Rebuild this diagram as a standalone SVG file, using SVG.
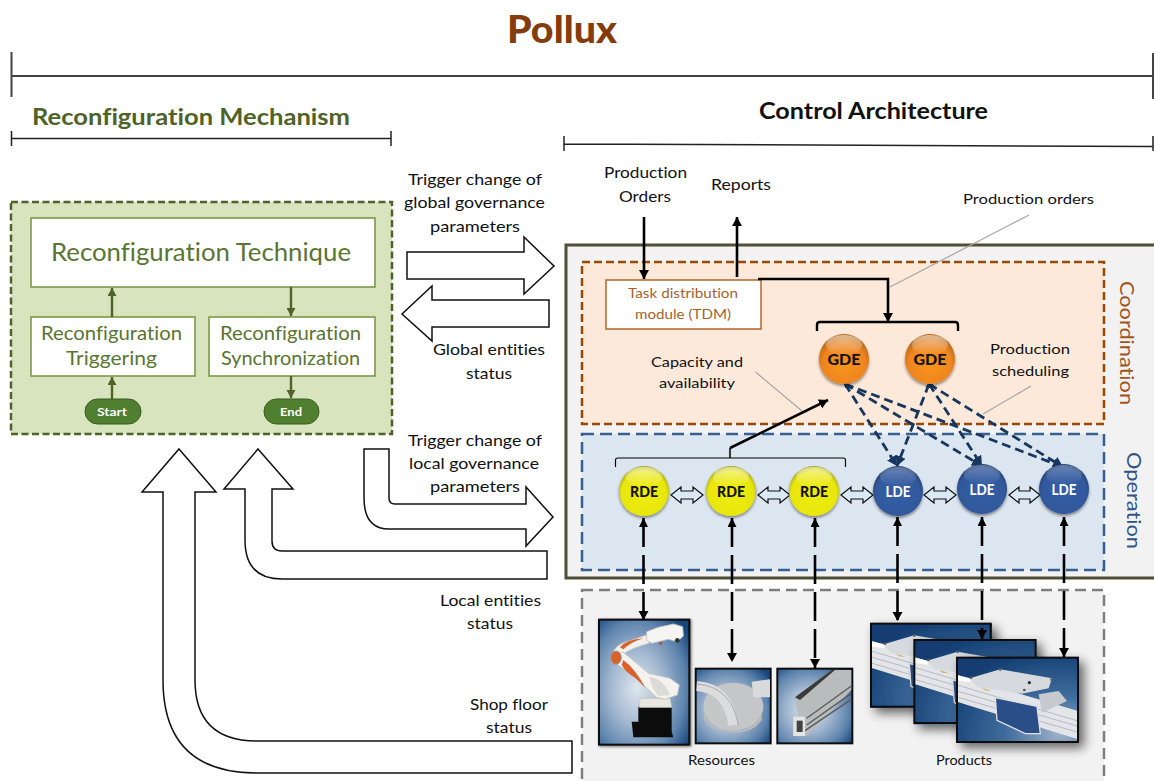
<svg xmlns="http://www.w3.org/2000/svg" width="1154" height="781" viewBox="0 0 1154 781">
<style>
text{font-family:"Lato","Carlito","Open Sans",sans-serif;fill:#111;font-variant-ligatures:none}
.l{font-size:16px}
.s{font-size:14.200px}
.g{fill:#5a7532;font-size:18.600px}
.br{fill:none;stroke:#444;stroke-width:1.500}
.blk{fill:#fff;stroke:#111;stroke-width:1.500;stroke-linejoin:miter}
.bi{fill:#dbe8f6;stroke:#111;stroke-width:1.200}
.gb{fill:#fff;stroke:#76923c;stroke-width:1.500}
.ga{fill:none;stroke:#4f6228;stroke-width:2.400;marker-end:url(#ag)}
.ka{fill:none;stroke:#000;stroke-width:2.600;marker-end:url(#ak)}
.da{fill:none;stroke:#000;stroke-width:2.600;stroke-dasharray:29 8;marker-end:url(#ak);marker-start:url(#aks)}
.bd{fill:none;stroke:#17375e;stroke-width:2.800;stroke-dasharray:9 5;marker-end:url(#ab);marker-start:url(#abs)}
.lead{fill:none;stroke:#a6a6a6;stroke-width:1.200}
.ph{stroke:#0d0d0d;stroke-width:6}
.ce{font-weight:900;font-size:15.500px}
.rb{stroke:#c4c4c4;stroke-width:2.500}
</style>
<defs>
<marker id="ag" markerUnits="userSpaceOnUse" markerWidth="10" markerHeight="10" refX="8" refY="4.500" orient="auto"><path d="M0 0L8 4.500L0 9z" fill="#4f6228"/></marker>
<marker id="ak" markerUnits="userSpaceOnUse" markerWidth="10" markerHeight="12" refX="9" refY="5" orient="auto"><path d="M0 0L9 5L0 10z" fill="#000"/></marker>
<marker id="aks" markerUnits="userSpaceOnUse" markerWidth="10" markerHeight="12" refX="9" refY="4.500" orient="auto-start-reverse"><path d="M0 0L9 4.500L0 9z" fill="#000"/></marker>
<marker id="ab" markerUnits="userSpaceOnUse" markerWidth="12" markerHeight="12" refX="10" refY="5.500" orient="auto"><path d="M0 0L10 5.500L0 11z" fill="#17375e"/></marker>
<marker id="abs" markerUnits="userSpaceOnUse" markerWidth="6" markerHeight="6" refX="4" refY="2.500" orient="auto-start-reverse"><path d="M0 0L4 2.500L0 5z" fill="#17375e"/></marker>
<radialGradient id="o" cx=".5" cy=".62" r=".58"><stop offset="0" stop-color="#f7951e"/><stop offset=".75" stop-color="#ee8420"/><stop offset="1" stop-color="#b96a1c"/></radialGradient>
<radialGradient id="y" cx=".5" cy=".55" r=".55"><stop offset="0" stop-color="#eeee0a"/><stop offset=".82" stop-color="#e8e610"/><stop offset="1" stop-color="#a7a71e"/></radialGradient>
<radialGradient id="b" cx=".5" cy=".55" r=".55"><stop offset="0" stop-color="#345ea6"/><stop offset=".82" stop-color="#30589c"/><stop offset="1" stop-color="#26406e"/></radialGradient>
<linearGradient id="gl" x1="0" y1="0" x2="0" y2="1"><stop offset="0" stop-color="#fff" stop-opacity=".55"/><stop offset="1" stop-color="#fff" stop-opacity="0"/></linearGradient>
<radialGradient id="ph" cx=".42" cy=".55" r=".72"><stop offset="0" stop-color="#dfe6ee"/><stop offset=".4" stop-color="#a4b9d1"/><stop offset=".75" stop-color="#5d83ad"/><stop offset="1" stop-color="#17457c"/></radialGradient>
<radialGradient id="pr" cx=".85" cy=".9" r="1"><stop offset="0" stop-color="#9fb2c8"/><stop offset=".45" stop-color="#3f6c9c"/><stop offset="1" stop-color="#133e72"/></radialGradient>
<filter id="sh" x="-30%" y="-30%" width="170%" height="170%"><feGaussianBlur in="SourceAlpha" stdDeviation="5"/><feOffset dx="4" dy="4"/><feComponentTransfer><feFuncA type="linear" slope=".55"/></feComponentTransfer><feMerge><feMergeNode/><feMergeNode in="SourceGraphic"/></feMerge></filter>
<filter id="sh2" x="-60%" y="-60%" width="220%" height="220%"><feGaussianBlur in="SourceAlpha" stdDeviation="16"/><feOffset dx="14" dy="14"/><feComponentTransfer><feFuncA type="linear" slope=".6"/></feComponentTransfer><feMerge><feMergeNode/><feMergeNode in="SourceGraphic"/></feMerge></filter>
<filter id="cs" x="-20%" y="-20%" width="140%" height="140%"><feGaussianBlur in="SourceAlpha" stdDeviation="1.500"/><feOffset dy="1.500"/><feComponentTransfer><feFuncA type="linear" slope=".45"/></feComponentTransfer><feMerge><feMergeNode/><feMergeNode in="SourceGraphic"/></feMerge></filter>
<clipPath id="pc"><rect width="363" height="253"/></clipPath>
<g id="prodArt">
<rect width="363" height="253" fill="url(#pr)"/>
<g clip-path="url(#pc)">
<path d="M0 52L120 88L363 160V245L0 132z" fill="#e3e5e8"/>
<path d="M0 52L40 62V74L0 68z" fill="#fff"/>
<path d="M0 82L363 190M0 100L363 206M0 118L363 224" stroke="#b6bac0" stroke-width="3" fill="none"/>
<path d="M245 110L305 100L330 130L255 165z" fill="#c6c9cd"/>
<path d="M38 62L130 35L285 62L275 92L195 108L60 88z" fill="#d6d9dd"/>
<path d="M75 90L105 100L85 98z" fill="#c9ab62"/>
<path d="M115 120L240 146L250 228L205 228L120 188z" fill="#2a5088" stroke="#dfe1e4" stroke-width="4"/>
<circle cx="130" cy="36" r="4" fill="#666"/><circle cx="42" cy="60" r="4" fill="#555"/><circle cx="217" cy="75" r="5" fill="#333"/><circle cx="283" cy="66" r="4" fill="#666"/><circle cx="202" cy="97" r="4" fill="#555"/>
</g>
</g>
</defs>

<g id="title">
<text x="507" y="43" font-size="37.500" font-weight="900" style="fill:#843c0c" textLength="110" lengthAdjust="spacingAndGlyphs">Pollux</text>
<path class="br" style="stroke-width:2" d="M11.500 52V97M11.500 76H1153M1153 53V99"/>
</g>
<g id="mechanism-header">
<text x="32" y="125" font-size="22.500" font-weight="700" style="fill:#4f6228" textLength="318" lengthAdjust="spacingAndGlyphs">Reconfiguration Mechanism</text>
<path class="br" style="stroke:#222" d="M11.500 131V146M11.500 138.500H391M391 131V146"/>
</g>
<g id="control-header">
<text x="759" y="119" font-size="22.500" font-weight="700" textLength="229" lengthAdjust="spacingAndGlyphs">Control Architecture</text>
<path class="br" style="stroke:#222" d="M564 136V151M564 144L1153 146.500M1153 136V151"/>
</g>

<g id="mechanism">
<rect x="11" y="202" width="381" height="232" fill="#d7e4bd" stroke="#4f6228" stroke-width="2.500" stroke-dasharray="7 3.500"/>
</g>
<g id="technique"><rect class="gb" x="31" y="218" width="344" height="69"/><text x="51" y="261" class="g" style="font-size:24.500px" textLength="300" lengthAdjust="spacingAndGlyphs">Reconfiguration Technique</text></g>
<g id="triggering"><rect class="gb" x="31" y="317" width="164" height="59"/><text x="41" y="340" class="g" textLength="141" lengthAdjust="spacingAndGlyphs">Reconfiguration</text><text x="66" y="365" class="g" textLength="91" lengthAdjust="spacingAndGlyphs">Triggering</text></g>
<g id="synchronization"><rect class="gb" x="209" y="317" width="166" height="59"/><text x="220" y="340" class="g" textLength="141" lengthAdjust="spacingAndGlyphs">Reconfiguration</text><text x="221" y="365" class="g" textLength="139" lengthAdjust="spacingAndGlyphs">Synchronization</text></g>
<g id="start"><rect x="85" y="399" width="56" height="25" rx="12.500" fill="#4f7f2f" stroke="#3d5a1e"/><text x="97" y="416" font-size="11.500" font-weight="700" style="fill:#fff" textLength="30" lengthAdjust="spacingAndGlyphs">Start</text></g>
<g id="end"><rect x="264" y="399" width="55" height="25" rx="12.500" fill="#4f7f2f" stroke="#3d5a1e"/><text x="280" y="416" font-size="11.500" font-weight="700" style="fill:#fff" textLength="22" lengthAdjust="spacingAndGlyphs">End</text></g>

<g id="control-frame"><rect x="566" y="245" width="600" height="333" fill="#f2f2f2" stroke="#4f4f35" stroke-width="3"/></g>
<g id="coordination">
<rect x="582" y="262" width="522" height="162" fill="#fde9d9" stroke="#984807" stroke-width="2.500" stroke-dasharray="8 4"/>
<text transform="translate(1120 281) rotate(90)" font-size="20" style="fill:#a0551c" textLength="124" lengthAdjust="spacingAndGlyphs">Coordination</text>
</g>
<g id="operation">
<rect x="582" y="434" width="522" height="136" fill="#dce6f1" stroke="#366092" stroke-width="2.500" stroke-dasharray="12 6"/>
<text transform="translate(1127 452) rotate(90)" font-size="20" style="fill:#2f5483" textLength="97" lengthAdjust="spacingAndGlyphs">Operation</text>
</g>
<g id="shopfloor"><rect x="582" y="590" width="522" height="210" fill="#f2f2f2" stroke="#7f7f7f" stroke-width="2.500" stroke-dasharray="11 6"/></g>

<g id="block-arrows">
<path class="blk" d="M407 252H524V237L554 266L524 294V279H407z"/>
<path class="blk" d="M549 300H432V286L402 314L432 341V327H549z"/>
<path class="blk" d="M364 449H389V498Q389 504 395 504H526V487L553 517L526 546V529H389Q364 529 364 498z"/>
<path class="blk" d="M258 449L293 489H272V541Q272 551 282 551H547V579H282Q245 579 245 540V489H224z"/>
<path class="blk" d="M179 449L216 492H195V680Q195 741 257 741H572V773H257Q163 773 163 680V492H142z"/>
</g>

<g id="labels">
<text class="l" x="408" y="185" textLength="134" lengthAdjust="spacingAndGlyphs">Trigger change of</text>
<text class="l" x="404" y="208" textLength="141" lengthAdjust="spacingAndGlyphs">global governance</text>
<text class="l" x="430" y="232" textLength="90" lengthAdjust="spacingAndGlyphs">parameters</text>
<text class="l" x="433" y="355" textLength="112" lengthAdjust="spacingAndGlyphs">Global entities</text>
<text class="l" x="466" y="379" textLength="46" lengthAdjust="spacingAndGlyphs">status</text>
<text class="l" x="408" y="446" textLength="134" lengthAdjust="spacingAndGlyphs">Trigger change of</text>
<text class="l" x="409" y="469" textLength="130" lengthAdjust="spacingAndGlyphs">local governance</text>
<text class="l" x="430" y="492" textLength="90" lengthAdjust="spacingAndGlyphs">parameters</text>
<text class="l" x="440" y="606" textLength="101" lengthAdjust="spacingAndGlyphs">Local entities</text>
<text class="l" x="467" y="629" textLength="46" lengthAdjust="spacingAndGlyphs">status</text>
<text class="l" x="470" y="710" textLength="78" lengthAdjust="spacingAndGlyphs">Shop floor</text>
<text class="l" x="486" y="733" textLength="46" lengthAdjust="spacingAndGlyphs">status</text>
<text class="l" x="604" y="178" textLength="83" lengthAdjust="spacingAndGlyphs">Production</text>
<text class="l" x="619" y="202" textLength="52" lengthAdjust="spacingAndGlyphs">Orders</text>
<text class="l" x="711" y="190" textLength="60" lengthAdjust="spacingAndGlyphs">Reports</text>
<text class="s" x="963" y="204" textLength="131" lengthAdjust="spacingAndGlyphs">Production orders</text>
<text class="s" x="651" y="367" textLength="92" lengthAdjust="spacingAndGlyphs">Capacity and</text>
<text class="s" x="659" y="388" textLength="76" lengthAdjust="spacingAndGlyphs">availability</text>
<text class="s" x="990" y="354" textLength="80" lengthAdjust="spacingAndGlyphs">Production</text>
<text class="s" x="992" y="376" textLength="77" lengthAdjust="spacingAndGlyphs">scheduling</text>
<text class="s" x="688" y="765" textLength="67" lengthAdjust="spacingAndGlyphs">Resources</text>
<text class="s" x="936" y="765" textLength="56" lengthAdjust="spacingAndGlyphs">Products</text>
</g>

<g id="leaders">
<path class="lead" d="M1029 215L890 287M755.500 372L802 411M1031 386L983 414"/>
</g>

<g id="tdm"><rect x="606" y="280" width="155" height="49" fill="#fff" stroke="#b5652a" stroke-width="1.500"/>
<text x="628" y="298" font-size="13.800" style="fill:#a5622b" textLength="110" lengthAdjust="spacingAndGlyphs">Task distribution</text>
<text x="635" y="319" font-size="13.800" style="fill:#a5622b" textLength="96" lengthAdjust="spacingAndGlyphs">module (TDM)</text></g>

<g id="robot" transform="translate(590 610) scale(.33333)">
<rect class="ph" x="27" y="29" width="271" height="375" fill="url(#ph)" filter="url(#sh)"/>
<path d="M145 290H245V365L250 382H130L125 335H145z" fill="#0c0c0c"/>
<path class="rb" d="M150 265H240L245 292H148z" fill="#e9e6df"/>
<path class="rb" d="M65 135Q75 105 110 95L170 75L178 100Q130 112 100 132z" fill="#f2f0ec"/>
<path class="rb" d="M62 145L98 125L140 160L175 190L240 205L268 225L262 255L225 268L200 262L140 205L85 165z" fill="#f4f2ee"/>
<path d="M178 200Q220 205 240 255L205 258Q185 235 178 200z" fill="#dcdad6"/>
<path d="M90 112Q110 88 160 85Q120 98 100 118z" fill="#d9622b"/>
<path d="M100 150Q135 175 165 232L135 203Q108 188 95 165z" fill="#d9622b"/>
<ellipse cx="78" cy="143" rx="16" ry="20" fill="#d9622b" stroke="#9a9a9a" stroke-width="3"/>
<path class="rb" d="M170 65L205 52L250 42L278 50L280 78L262 95L235 88L185 100L170 90z" fill="#f6f5f2"/>
<circle cx="262" cy="91" r="7" fill="#333"/><circle cx="212" cy="100" r="4" fill="#c0392b"/>
</g>
<g id="resource-2" transform="translate(590 610) scale(.33333)">
<rect class="ph" x="317" y="176" width="225" height="224" fill="url(#ph)"/>
<ellipse cx="430" cy="290" rx="90" ry="72" fill="#c4c6c8"/>
<path d="M342 305Q360 365 430 362Q495 365 515 305V330Q490 368 430 368Q365 365 342 330z" fill="#b8babc"/>
<path d="M320 228Q415 235 430 345" fill="none" stroke="#dcdcdc" stroke-width="30"/>
<path d="M320 222Q425 230 445 345" fill="none" stroke="#a8aaad" stroke-width="3"/>
<path d="M485 215L540 208V262L490 262z" fill="#d9dadb"/>
</g>
<g id="resource-3" transform="translate(590 610) scale(.33333)">
<rect class="ph" x="562" y="176" width="225" height="224" fill="url(#ph)"/>
<path d="M615 260L725 180H784V240L650 378H610V320H625z" fill="#b9bbbd"/>
<path d="M615 262L725 180H735L630 270z" fill="#3a3a3a"/>
<path d="M650 325L784 228M650 345L784 250M645 362L784 268" stroke="#5a5a5a" stroke-width="4" fill="none"/>
<path d="M610 320H645V378H610z" fill="#e4e4e4"/><rect x="620" y="332" width="18" height="34" fill="#444"/>
</g>
<g id="products" transform="translate(860 610) scale(.33333)">
<g id="product-1" filter="url(#sh2)"><use href="#prodArt" x="33" y="41"/><rect class="ph" x="33" y="41" width="359" height="249" fill="none"/></g>
<g id="product-2" filter="url(#sh2)"><use href="#prodArt" x="163" y="90"/><rect class="ph" x="163" y="90" width="364" height="249" fill="none"/></g>
<g id="product-3" filter="url(#sh2)"><use href="#prodArt" x="291" y="143"/><rect class="ph" x="291" y="143" width="363" height="253" fill="none"/></g>
</g>

<g id="connectors">
<path class="ga" d="M112 317V288"/>
<path class="ga" d="M291 287V316"/>
<path class="ga" d="M112 399V377"/>
<path class="ga" d="M291 376V398"/>
<path class="ka" d="M644 217V279"/>
<path class="ka" d="M737 277V217"/>
<path class="ka" d="M758 279H888V322"/>
<path fill="none" stroke="#000" stroke-width="2.400" d="M817 331V325Q817 322 820 322H955Q958 322 958 325V331"/>
<path fill="none" stroke="#000" stroke-width="1.200" d="M615.500 467V460Q615.500 458 618 458H843Q845.500 458 845.500 460V467"/>
<path fill="none" stroke="#000" stroke-width="1.500" d="M730 458V448"/>
<path class="ka" d="M730 448L828 400"/>
<path class="bd" d="M845 384L897 466"/>
<path class="bd" d="M845 384L982 466"/>
<path class="bd" d="M845 384L1063 467"/>
<path class="bd" d="M929 384L897 466"/>
<path class="bd" d="M929 384L982 466"/>
<path class="bd" d="M929 384L1063 467"/>
<path class="da" d="M643.500 518V620"/>
<path class="da" d="M732 518V662"/>
<path class="da" d="M815 518V668"/>
<path class="da" d="M897.500 517V621"/>
<path class="da" d="M982 517V639"/>
<path class="da" d="M1064 517V657"/>
<path class="bi" d="M671 495L681 487V491H693V487L703 495L693 503V499H681V503z"/>
<path class="bi" d="M758 495L768 487V491H780V487L790 495L780 503V499H768V503z"/>
<path class="bi" d="M841 495L851 487V491H863V487L873 495L863 503V499H851V503z"/>
<path class="bi" d="M924 495L934 487V491H946V487L956 495L946 503V499H934V503z"/>
<path class="bi" d="M1009 495L1019 487V491H1030V487L1040 495L1030 503V499H1019V503z"/>
</g>

<g id="gde-1"><circle cx="844" cy="359" r="25" fill="url(#o)" filter="url(#cs)"/><ellipse cx="844" cy="345" rx="18" ry="10" fill="url(#gl)"/><text class="ce" x="827.500" y="365" textLength="33" lengthAdjust="spacingAndGlyphs">GDE</text></g>
<g id="gde-2"><circle cx="930" cy="359" r="25" fill="url(#o)" filter="url(#cs)"/><ellipse cx="930" cy="345" rx="18" ry="10" fill="url(#gl)"/><text class="ce" x="913.500" y="365" textLength="33" lengthAdjust="spacingAndGlyphs">GDE</text></g>
<g id="rde-1"><circle cx="644" cy="491" r="25" fill="url(#y)" filter="url(#cs)"/><ellipse cx="644" cy="477" rx="18" ry="10" fill="url(#gl)"/><text class="ce" x="630" y="497" textLength="28" lengthAdjust="spacingAndGlyphs">RDE</text></g>
<g id="rde-2"><circle cx="731" cy="491" r="25" fill="url(#y)" filter="url(#cs)"/><ellipse cx="731" cy="477" rx="18" ry="10" fill="url(#gl)"/><text class="ce" x="717" y="497" textLength="28" lengthAdjust="spacingAndGlyphs">RDE</text></g>
<g id="rde-3"><circle cx="814" cy="491" r="25" fill="url(#y)" filter="url(#cs)"/><ellipse cx="814" cy="477" rx="18" ry="10" fill="url(#gl)"/><text class="ce" x="800" y="497" textLength="28" lengthAdjust="spacingAndGlyphs">RDE</text></g>
<g id="lde-1"><circle cx="898" cy="491" r="25" fill="url(#b)" filter="url(#cs)"/><ellipse cx="898" cy="477" rx="18" ry="10" fill="url(#gl)" opacity=".5"/><text class="ce" x="885.500" y="497" style="fill:#fff;font-weight:700" textLength="25" lengthAdjust="spacingAndGlyphs">LDE</text></g>
<g id="lde-2"><circle cx="982" cy="489" r="25" fill="url(#b)" filter="url(#cs)"/><ellipse cx="982" cy="475" rx="18" ry="10" fill="url(#gl)" opacity=".5"/><text class="ce" x="969.500" y="495" style="fill:#fff;font-weight:700" textLength="25" lengthAdjust="spacingAndGlyphs">LDE</text></g>
<g id="lde-3"><circle cx="1064" cy="489" r="25" fill="url(#b)" filter="url(#cs)"/><ellipse cx="1064" cy="475" rx="18" ry="10" fill="url(#gl)" opacity=".5"/><text class="ce" x="1051.500" y="495" style="fill:#fff;font-weight:700" textLength="25" lengthAdjust="spacingAndGlyphs">LDE</text></g>
</svg>
